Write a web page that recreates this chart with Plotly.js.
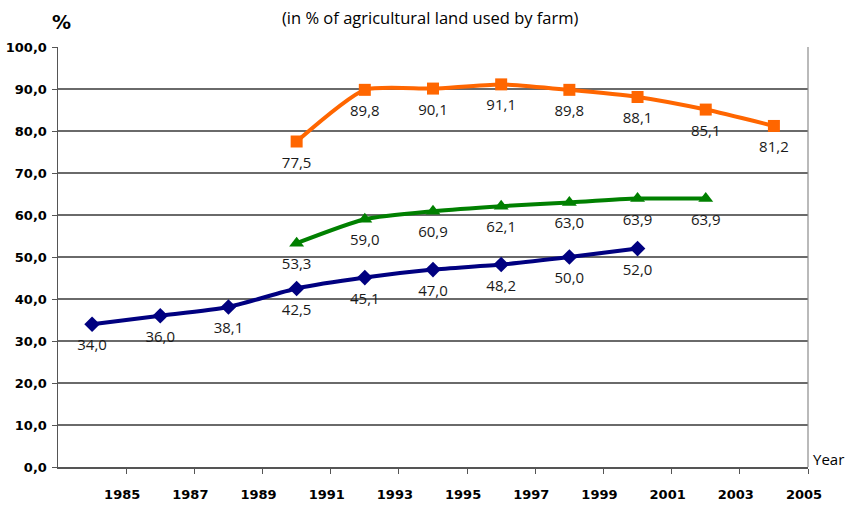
<!DOCTYPE html>
<html>
<head>
<meta charset="utf-8">
<script src="https://cdn.plot.ly/plotly-3.0.1.min.js"></script>
<style>
  html, body { margin: 0; padding: 0; background: #fff; }
  #chart { width: 848px; height: 507px; }
</style>
</head>
<body>
<div id="chart"></div>
<script>
// Share of agricultural land used by farm type, by year
const yearsBlue   = [1984, 1986, 1988, 1990, 1992, 1994, 1996, 1998, 2000];
const valuesBlue  = [34.0, 36.0, 38.1, 42.5, 45.1, 47.0, 48.2, 50.0, 52.0];

const yearsGreen  = [1990, 1992, 1994, 1996, 1998, 2000, 2002];
const valuesGreen = [53.3, 59.0, 60.9, 62.1, 63.0, 63.9, 63.9];

const yearsOrange  = [1990, 1992, 1994, 1996, 1998, 2000, 2002, 2004];
const valuesOrange = [77.5, 89.8, 90.1, 91.1, 89.8, 88.1, 85.1, 81.2];

const xTickYears = [1985, 1987, 1989, 1991, 1993, 1995, 1997, 1999, 2001, 2003, 2005];
const yTickValues = [0, 10, 20, 30, 40, 50, 60, 70, 80, 90, 100];

const fmt = v => v.toFixed(1).replace('.', ',');
const LABEL_FONT = 'Open Sans, Noto Sans, sans-serif';
const TICK_FONT = 'DejaVu Sans, Verdana, sans-serif';

// line with markers
function series(x, y, color, symbol, size) {
  return {
    type: 'scatter',
    mode: 'lines+markers',
    x: x,
    y: y,
    line: { color: color, width: 4, shape: 'spline', smoothing: 0.6 },
    marker: { color: color, symbol: symbol, size: size },
    cliponaxis: false,
    hoverinfo: 'x+y',
    showlegend: false
  };
}

// value labels placed under each point (invisible marker sets the gap)
function labels(x, y) {
  return {
    type: 'scatter',
    mode: 'markers+text',
    x: x,
    y: y,
    text: y.map(fmt),
    textposition: 'bottom center',
    textfont: { family: LABEL_FONT, size: 15, color: '#1a1a1a' },
    marker: { size: 22, opacity: 0 },
    cliponaxis: false,
    hoverinfo: 'skip',
    showlegend: false
  };
}

const data = [
  series(yearsBlue, valuesBlue, '#000080', 'diamond', 12),
  series(yearsGreen, valuesGreen, '#008000', 'triangle-up', 13),
  series(yearsOrange, valuesOrange, '#FF6600', 'square', 12),
  labels(yearsBlue, valuesBlue),
  labels(yearsGreen, valuesGreen),
  labels(yearsOrange, valuesOrange)
];

const layout = {
  width: 848,
  height: 507,
  margin: { l: 58, r: 40, t: 47, b: 40 },
  paper_bgcolor: '#ffffff',
  plot_bgcolor: '#ffffff',
  separators: ', ',
  font: { family: LABEL_FONT, color: '#000' },
  xaxis: {
    range: [1983, 2005],
    tickvals: xTickYears,
    ticktext: xTickYears.map(String),
    ticks: 'outside',
    ticklen: 5,
    tickcolor: '#555',
    tickwidth: 1,
    ticklabelstandoff: 10,
    ticklabelshift: -4,
    tickfont: { family: TICK_FONT, size: 13, color: '#000', weight: 'bold' },
    showgrid: false,
    zeroline: false,
    showline: true,
    linecolor: '#555',
    linewidth: 1.5
  },
  yaxis: {
    range: [0, 100],
    tickvals: yTickValues,
    tickformat: '.1f',
    ticks: 'outside',
    ticklen: 5,
    tickcolor: '#555',
    ticklabelstandoff: 2,
    tickfont: { family: TICK_FONT, size: 13, color: '#000', weight: 'bold' },
    showgrid: true,
    gridcolor: '#6a6a6a',
    gridwidth: 1.2,
    zeroline: false,
    showline: true,
    linecolor: '#555',
    linewidth: 1.5
  },
  shapes: [
    { type: 'line', xref: 'paper', yref: 'paper', x0: 1, x1: 1, y0: 0, y1: 1,
      line: { color: '#8c8c8c', width: 1.2 } }
  ],
  annotations: [
    { text: '(in % of agricultural land used by farm)', xref: 'paper', yref: 'paper',
      x: 0.497, y: 1, yshift: 30, showarrow: false, xanchor: 'center', yanchor: 'middle',
      font: { family: LABEL_FONT, size: 16.5, color: '#000' } },
    { text: '<b>%</b>', xref: 'paper', yref: 'paper',
      x: 0, y: 1, xshift: 3, yshift: 25, showarrow: false, xanchor: 'center', yanchor: 'middle',
      font: { family: TICK_FONT, size: 19, color: '#000' } },
    { text: 'Year', xref: 'paper', yref: 'paper',
      x: 1, y: 0, xshift: 3, yshift: -4, showarrow: false, xanchor: 'left', yanchor: 'bottom',
      font: { family: LABEL_FONT, size: 15, color: '#000' } }
  ]
};

Plotly.newPlot('chart', data, layout, { displayModeBar: false, staticPlot: true });
</script>
</body>
</html>
